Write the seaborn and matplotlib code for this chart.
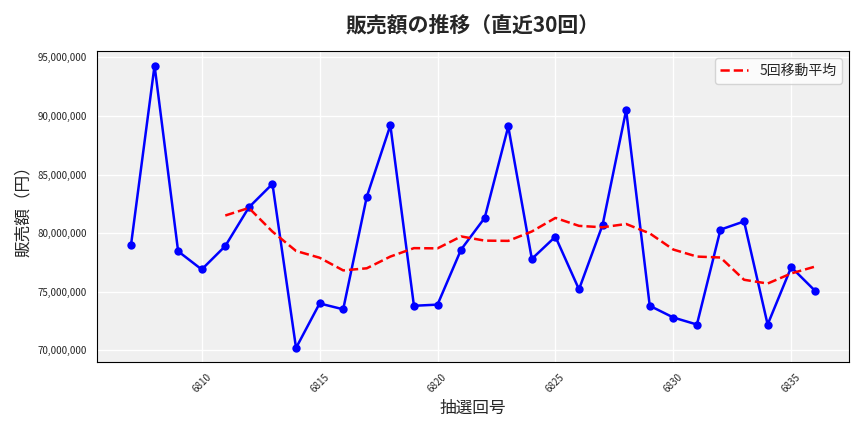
import matplotlib
matplotlib.use("Agg")
import matplotlib.pyplot as plt
import matplotlib.ticker as mticker
import seaborn as sns
import pandas as pd

draws = list(range(6807, 6837))
sales = [78.97, 94.3, 78.45, 76.9, 78.9, 82.2, 84.2, 70.2, 74.0, 73.5,
         83.1, 89.2, 73.8, 73.9, 78.6, 81.3, 89.1, 77.8, 79.7, 75.2,
         80.7, 90.5, 73.8, 72.8, 72.2, 80.3, 81.0, 72.2, 77.1, 75.1]

df = pd.DataFrame({"draw": draws, "sales": [v * 1e6 for v in sales]})
df["ma"] = df["sales"].rolling(5).mean()

sns.set_style("whitegrid")
plt.rcParams['font.family'] = ['Noto Sans CJK JP', 'DejaVu Sans']

fig, ax = plt.subplots(figsize=(8.64, 4.32), dpi=100)
ax.set_facecolor("#f0f0f0")
sns.lineplot(data=df, x="draw", y="sales", color="blue", marker="o",
             markersize=6, markeredgewidth=0, linewidth=1.8, ax=ax)
sns.lineplot(data=df, x="draw", y="ma", color="red", linestyle="--",
             linewidth=1.8, ax=ax, label="5回移動平均")
ax.grid(color="white", linewidth=1)
for s in ax.spines.values():
    s.set_color("black"); s.set_linewidth(0.8)
ax.yaxis.set_major_formatter(mticker.FuncFormatter(lambda v, p: f"{int(v):,}"))
ax.xaxis.set_major_locator(mticker.MultipleLocator(5))
ax.tick_params(axis="x", labelsize=7, rotation=45)
ax.tick_params(axis="y", labelsize=7)
ax.set_xlabel("抽選回号", fontsize=12)
ax.set_ylabel("販売額（円）", fontsize=12)
ax.set_title("販売額の推移（直近30回）", fontsize=15, fontweight="bold", pad=14)
ax.legend(loc="upper right", fontsize=10, facecolor="white")
fig.tight_layout()
fig.savefig("out.png", dpi=100)
